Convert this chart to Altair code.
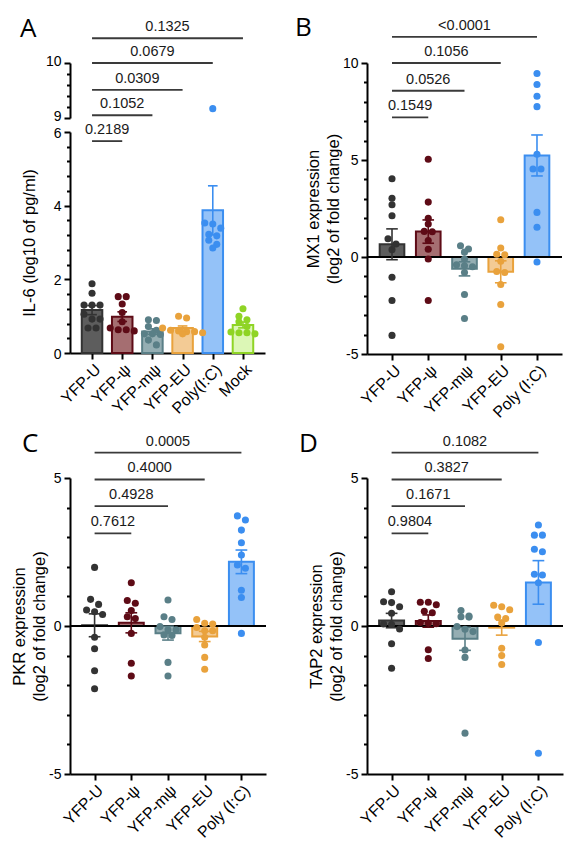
import altair as alt
import pandas as pd

# ---------------- categories ----------------
GROUPS_A = ["YFP-U", "YFP-ψ", "YFP-mψ", "YFP-EU", "Poly(I:C)", "Mock"]
GROUPS_BCD = ["YFP-U", "YFP-ψ", "YFP-mψ", "YFP-EU", "Poly (I:C)"]

# ---------------- panel A: IL-6 (log10 of pg/ml) ----------------
IL6_U = [1.88, 1.62, 1.30, 1.30, 1.30, 1.05, 0.92, 0.92, 0.68, 0.68]
IL6_PSI = [1.53, 1.53, 1.33, 1.10, 0.85, 0.68, 0.63, 0.63, 0.60]
IL6_MPSI = [0.90, 0.88, 0.72, 0.62, 0.52, 0.52, 0.50, 0.35, 0.22]
IL6_EU = [1.00, 0.95, 0.68, 0.62, 0.60, 0.58, 0.58, 0.55, 0.52]
IL6_POLY = [9.17, 3.53, 3.50, 3.39, 3.22, 3.18, 3.06, 2.95, 2.85]
IL6_MOCK = [1.20, 1.00, 0.90, 0.85, 0.72, 0.57, 0.55, 0.55, 0.52]

# ---------------- panel B: MX1 ----------------
MX1_U = [4.03, 3.03, 2.69, 2.13, 0.94, 0.67, 0.38, -1.04, -2.24, -4.04]
MX1_PSI = [5.04, 2.83, 2.00, 1.70, 1.32, 1.30, 0.85, 0.40, -0.10, -2.24]
MX1_MPSI = [0.58, 0.41, 0.25, -0.10, -0.40, -0.45, -0.50, -0.80, -1.93, -3.17]
MX1_EU = [1.92, 0.46, 0.14, 0.12, -0.22, -0.75, -0.80, -1.42, -2.45, -4.63]
MX1_POLY = [9.46, 8.89, 8.29, 7.75, 5.30, 4.54, 4.54, 2.30, 1.53, -0.26]

# ---------------- panel C: PKR ----------------
PKR_U = [1.98, 0.90, 0.73, 0.54, 0.48, 0.39, -0.38, -0.77, -1.51, -2.12]
PKR_PSI = [1.46, 0.86, 0.77, 0.52, 0.31, 0.25, -0.25, -1.26, -1.69]
PKR_MPSI = [0.88, 0.31, 0.22, -0.02, -0.13, -0.13, -0.30, -0.32, -1.23, -1.69]
PKR_EU = [0.22, 0.09, 0.07, -0.05, -0.16, -0.16, -0.38, -0.64, -1.06, -1.46]
PKR_POLY = [3.72, 3.58, 3.24, 2.81, 2.40, 2.06, 1.95, 1.21, 0.96, -0.25]

# ---------------- panel D: TAP2 ----------------
TAP2_U = [1.16, 0.82, 0.79, 0.65, 0.43, 0.07, 0.05, -0.10, -0.60, -1.43]
TAP2_PSI = [0.80, 0.80, 0.72, 0.50, 0.45, 0.12, 0.10, 0.08, -0.80, -1.10]
TAP2_MPSI = [0.52, 0.34, 0.31, 0.30, -0.02, -0.11, -0.19, -0.81, -1.06, -3.62]
TAP2_EU = [0.70, 0.65, 0.55, 0.30, 0.25, 0.10, -0.75, -1.00, -1.30]
TAP2_POLY = [3.41, 3.07, 3.07, 2.59, 2.51, 1.75, 1.72, 1.46, -0.56, -4.30]

# ---------------- p-values (YFP-U vs each later group) ----------------
P_A = ["0.2189", "0.1052", "0.0309", "0.0679", "0.1325"]
P_B = ["0.1549", "0.0526", "0.1056", "<0.0001"]
P_C = ["0.7612", "0.4928", "0.4000", "0.0005"]
P_D = ["0.9804", "0.1671", "0.3827", "0.1082"]

# bracket heights, in axis units (panel A: units of the upper 9-10 segment)
LVL_A = [8.58, 9.05, 9.51, 10.0, 10.45]
LVL_B = [7.2, 8.57, 10.0, 11.35]
LVL_C = [3.13, 4.05, 4.95, 5.86]
LVL_D = [3.13, 4.05, 4.95, 5.86]

# ---------------- axis ticks ----------------
MAJOR_A_LOW = [0, 2, 4, 6]
MINOR_A_LOW = [0.4, 0.8, 1.2, 1.6, 2.4, 2.8, 3.2, 3.6, 4.4, 4.8, 5.2, 5.6]
MAJOR_A_UP = [9, 10]
MINOR_A_UP = [9.2, 9.4, 9.6, 9.8]
MAJOR_B = [-5, 0, 5, 10]
MINOR_B = [-4, -3, -2, -1, 1, 2, 3, 4, 6, 7, 8, 9]
MAJOR_CD = [-5, 0, 5]
MINOR_CD = [-4, -3, -2, -1, 1, 2, 3, 4]

# ---------------- colours ----------------
DOT = ["#333333", "#5e0b16", "#5a7f87", "#e9a23c", "#3b8ef0", "#8fd425"]
FILL = ["#5d5d5d", "#a56e71", "#95aeb3", "#f3cb95", "#94c2f8", "#dcf7b6"]
KEYS = [0, 1, 2, 3, 4, 5]

FONT = "Liberation Sans"
DOT_PX = 8.0   # horizontal spacing of dots sharing a row
ROW_PX = 5.5   # dots closer than this (vertically) share a row


def points_df(groups, series, px_unit, px_index):
    rows = []
    for gi, (g, vals) in enumerate(zip(groups, series)):
        order = sorted(range(len(vals)), key=lambda i: -vals[i])
        clusters = []
        for i in order:
            if clusters and (vals[clusters[-1][0]] - vals[i]) * px_unit < ROW_PX:
                clusters[-1].append(i)
            else:
                clusters.append([i])
        for cl in clusters:
            k = len(cl)
            for j, i in enumerate(cl):
                rows.append({"g": g, "idx": gi, "v": vals[i],
                             "xj": gi + (j - (k - 1) / 2) * DOT_PX / px_index})
    return pd.DataFrame(rows)


def brackets_df(pvals, levels):
    return pd.DataFrame({"x0": [0] * len(pvals),
                         "x1": list(range(1, len(pvals) + 1)),
                         "lvl": levels, "p": pvals})


def x_setup(groups, c):
    n = len(groups)
    scale = alt.Scale(domain=[-c, n - 1 + c], nice=False, zero=False)
    names = ",".join("'" + g + "'" for g in groups)
    axis = alt.Axis(values=list(range(n)), labelExpr="[" + names + "][datum.value]",
                    labelAngle=-45, labelAlign="right", labelBaseline="top",
                    labelFontSize=16, labelPadding=2, labelOverlap=False,
                    labelBound=False, tickSize=6, title=None, grid=False)
    return lambda f: alt.X(f, type="quantitative", scale=scale, axis=axis)


def y_setup(domain, rng=None):
    kw = dict(domain=domain, nice=False, zero=False)
    if rng is not None:
        kw["range"] = rng
    scale = alt.Scale(**kw)

    def Y(f, axis=None):
        return alt.Y(f, type="quantitative", scale=scale, axis=axis)
    return Y


def major_axis(values, title, tpad=1, loff=0):
    return alt.Axis(orient="left", values=values, labelExpr="datum.value",
                    tickSize=6, labelFontSize=14, labelPadding=3, labelOffset=loff,
                    grid=False, title=title, titleFontSize=16.5, titlePadding=tpad,
                    titleFontWeight="normal", titleLineHeight=20)


def minor_axis(values):
    return alt.Axis(orient="left", values=values, tickSize=3.5, labels=False,
                    domain=False, title=None, grid=False)


def encs():
    fill = alt.Fill("idx:N", scale=alt.Scale(domain=KEYS, range=FILL), legend=None)
    stroke = alt.Stroke("idx:N", scale=alt.Scale(domain=KEYS, range=DOT), legend=None)
    color = alt.Color("idx:N", scale=alt.Scale(domain=KEYS, range=DOT), legend=None)
    return fill, stroke, color


def stats_chart(pts):
    return alt.Chart(pts).transform_aggregate(
        m="mean(v)", s="stderr(v)", groupby=["g", "idx"]
    ).transform_calculate(
        xa="datum.idx - 0.34", xb="datum.idx + 0.34",
        ca="datum.idx - 0.16", cb="datum.idx + 0.16",
        lo="datum.m - datum.s", hi="datum.m + datum.s", z="0")


def letter_title(letter, dx):
    return alt.TitleParams(text=letter, anchor="start", frame="group", dx=dx,
                           offset=-44, fontSize=26, font="Open Sans",
                           fontWeight="normal", color="black", baseline="alphabetic")


def bracket_layers(pvals, levels, X, Y, axis=None):
    br = brackets_df(pvals, levels)
    lines = alt.Chart(br).mark_rule(color="#3a3a3a", strokeWidth=1.8).encode(
        x=X("x0"), x2="x1", y=Y("lvl", axis))
    texts = alt.Chart(br).transform_calculate(mid="(datum.x0 + datum.x1) / 2").mark_text(
        font=FONT, fontSize=14.5, baseline="alphabetic", dy=-7, color="#1a1a1a"
    ).encode(x=X("mid"), y=Y("lvl"), text="p:N")
    return [lines, texts]


def stat_layers(st, X, Y, stroke):
    whisk = st.mark_rule(strokeWidth=1.6).encode(x=X("idx"), y=Y("lo"), y2="hi", stroke=stroke)
    cap_hi = st.mark_rule(strokeWidth=1.6).encode(x=X("ca"), x2="cb", y=Y("hi"), stroke=stroke)
    cap_lo = st.mark_rule(strokeWidth=1.6).encode(x=X("ca"), x2="cb", y=Y("lo"), stroke=stroke)
    return [whisk, cap_hi, cap_lo]


def panel(groups, series, pvals, levels, ydom, majors, minors, ytitle, letter,
          width, height, c, dx):
    n = len(groups)
    px_unit = height / (ydom[1] - ydom[0])
    px_index = width / (n - 1 + 2 * c)
    pts = points_df(groups, series, px_unit, px_index)
    X = x_setup(groups, c)
    Y = y_setup(ydom)
    fill, stroke, color = encs()
    st = stats_chart(pts)
    bars = st.mark_bar(strokeWidth=2).encode(
        x=X("xa"), x2="xb", y=Y("m", major_axis(majors, ytitle)), y2="z",
        fill=fill, stroke=stroke)
    zero = alt.Chart(pd.DataFrame({"zero": [0]})).mark_rule(
        color="black", strokeWidth=2).encode(y=Y("zero", minor_axis(minors)))
    dots = alt.Chart(pts).mark_circle(size=50, opacity=1).encode(
        x=X("xj"), y=Y("v"), color=color)
    layers = [bars, zero, dots] + stat_layers(st, X, Y, stroke) + \
        bracket_layers(pvals, levels, X, Y)
    return alt.layer(*layers).resolve_scale(y="independent").resolve_axis(
        y="independent").properties(width=width, height=height,
                                    title=letter_title(letter, dx))


def panel_a():
    groups = GROUPS_A
    series = [IL6_U, IL6_PSI, IL6_MPSI, IL6_EU, IL6_POLY, IL6_MOCK]
    width, height, c = 195, 290, 0.73
    low_rng, up_rng = [290, 69], [55, 0]
    px_unit = (low_rng[0] - low_rng[1]) / 6
    px_index = width / (len(groups) - 1 + 2 * c)
    pts = points_df(groups, series, px_unit, px_index)
    X = x_setup(groups, c)
    Ylow = y_setup([0, 6], low_rng)
    Yup = y_setup([9, 10], up_rng)
    fill, stroke, color = encs()
    st = stats_chart(pts)
    bars = st.mark_bar(strokeWidth=2).encode(
        x=X("xa"), x2="xb",
        y=Ylow("m", major_axis(MAJOR_A_LOW, "IL-6 (log10 of pg/ml)", 16, 1)), y2="z",
        fill=fill, stroke=stroke)
    dots_low = alt.Chart(pts).transform_filter("datum.v <= 6").mark_circle(
        size=50, opacity=1).encode(x=X("xj"), y=Ylow("v", minor_axis(MINOR_A_LOW)), color=color)
    dots_up = alt.Chart(pts).transform_filter("datum.v >= 9").mark_circle(
        size=50, opacity=1).encode(x=X("xj"), y=Yup("v", major_axis(MAJOR_A_UP, None, 1, -2)),
                                   color=color)
    br = bracket_layers(P_A, LVL_A, X, Yup, minor_axis(MINOR_A_UP))
    layers = [bars, dots_low] + stat_layers(st, X, Ylow, stroke) + [dots_up] + br
    return alt.layer(*layers).resolve_scale(y="independent").resolve_axis(
        y="independent").properties(width=width, height=height,
                                    title=letter_title("A", -50))


A = panel_a()
B = panel(GROUPS_BCD, [MX1_U, MX1_PSI, MX1_MPSI, MX1_EU, MX1_POLY], P_B, LVL_B,
          [-5, 10], MAJOR_B, MINOR_B, ["MX1 expression", "(log2 of fold change)"],
          "B", 195, 291, 0.69, -72)
C = panel(GROUPS_BCD, [PKR_U, PKR_PSI, PKR_MPSI, PKR_EU, PKR_POLY], P_C, LVL_C,
          [-5, 5], MAJOR_CD, MINOR_CD, ["PKR expression", "(log2 of fold change)"],
          "C", 196, 296, 0.67, -48)
D = panel(GROUPS_BCD, [TAP2_U, TAP2_PSI, TAP2_MPSI, TAP2_EU, TAP2_POLY], P_D, LVL_D,
          [-5, 5], MAJOR_CD, MINOR_CD, ["TAP2 expression", "(log2 of fold change)"],
          "D", 196, 296, 0.67, -68)

chart = alt.concat(
    A, B, C, D, columns=2, bounds="flush", align="each",
    spacing=alt.RowColnumber(row=124, column=101)
).properties(
    padding={"left": 3, "top": 6, "right": 5, "bottom": 0}
).configure(font=FONT).configure_view(stroke=None).configure_axis(
    domainColor="black", tickColor="black", labelColor="black", titleColor="black",
    domainWidth=2, tickWidth=2, labelFont=FONT, titleFont=FONT)

chart.save("out.html", embed_options={"renderer": "svg", "actions": False})
